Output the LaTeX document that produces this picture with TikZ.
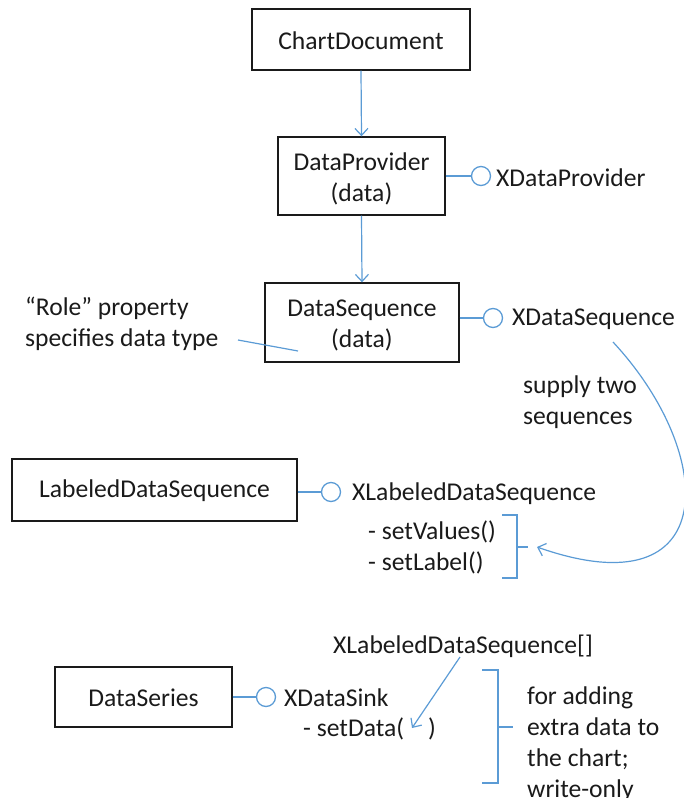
\documentclass[tikz,border=0pt]{standalone}
\usepackage{fontspec}
\setmainfont{Carlito}
\usetikzlibrary{arrows.meta}
\definecolor{linkblue}{HTML}{5B9BD5}
\definecolor{inkdark}{HTML}{1A1A1A}
\tikzset{
  txt/.style={inner sep=0pt, text=inkdark, font=\fontsize{25.6}{31}\selectfont, align=left},
  classbox/.style={draw=inkdark, line width=1.4pt, inner sep=0pt, text=inkdark,
    font=\fontsize{25.6}{31}\selectfont, align=center},
  lolli/.style={draw=linkblue, line width=1.3pt, circle, minimum size=19pt, inner sep=0pt},
  bluelink/.style={draw=linkblue, line width=1.2pt},
  bluearrow/.style={bluelink, -{Straight Barb[length=7pt,width=13pt,line width=1.2pt]}},
}
\begin{document}
\begin{tikzpicture}[x=1pt,y=-1pt]
\useasboundingbox (0,0) rectangle (683,798);

% class boxes
\node[classbox, minimum width=218pt, minimum height=61pt] (doc) at (361,39.5) {};
\node[txt, align=center] (docT) at ([yshift=-1pt]doc.center) {ChartDocument};
\node[classbox, minimum width=167pt, minimum height=78pt] (prov) at (361.5,176) {};
\node[txt, align=center] (provT) at ([yshift=-3pt]prov.center) {DataProvider\\(data)};
\node[classbox, minimum width=194pt, minimum height=79pt] (seq) at (362,322.5) {};
\node[txt, align=center] (seqT) at ([yshift=-3pt]seq.center) {DataSequence\\(data)};
\node[classbox, minimum width=285pt, minimum height=62pt] (lseq) at (154.5,490) {};
\node[txt, align=center] (lseqT) at ([yshift=-1pt]lseq.center) {LabeledDataSequence};
\node[classbox, minimum width=177pt, minimum height=60pt] (ser) at (143.5,697) {};
\node[txt, align=center] (serT) at ([yshift=-1pt]ser.center) {DataSeries};

% containment arrows
\draw[bluearrow] (doc.south) -- (prov.north);
\draw[bluearrow] (prov.south) -- (seq.north);

% interface lollipops
\node[lolli] (iprov) at (481,176) {};
\node[lolli] (iseq) at (493,318) {};
\node[lolli] (ilseq) at (331,492) {};
\node[lolli] (iser) at (266,697) {};
\draw[bluelink] (prov.east |- iprov) -- (iprov.west);
\draw[bluelink] (seq.east |- iseq) -- (iseq.west);
\draw[bluelink] (lseq.east |- ilseq) -- (ilseq.west);
\draw[bluelink] (ser.east |- iser) -- (iser.west);

\node[txt, anchor=west] (nprov) at (496,178) {XDataProvider};
\node[txt, anchor=west] (nseq) at (512,319) {XDataSequence};
\node[txt, anchor=west] (nlseq) at (352,494) {XLabeledDataSequence};
\node[txt, anchor=west] (nser) at (284,698) {XDataSink};

% role note
\node[txt, anchor=west] (role) at (25,324) {“Role” property\\specifies data type};
\coordinate (roleA) at (238,340);
\coordinate (roleB) at (298,351);
\draw[bluelink] (roleA) -- (roleB);

% labeled sequence methods
\node[txt, anchor=west] (meth) at (368,547) {- setValues()\\- setLabel()};
\coordinate (br1top) at (502,515);
\coordinate (br1bot) at (502,578);
\coordinate (br1tip) at (528,547);
\draw[bluelink] (br1top) -- (517,515) -- (517,578) -- (br1bot);
\draw[bluelink] (517,547) -- (br1tip);

% two sequences supplied
\node[txt, anchor=west] (supply) at (523,402) {supply two\\sequences};
\coordinate (cstart) at (613,342);
\coordinate (cend) at (537,547);
\draw[bluearrow] (cstart) .. controls (718,455) and (722,612) .. (cend);

% data sink
\node[txt, anchor=west] (arr) at (333,646) {XLabeledDataSequence[]};
\node[txt, anchor=west] (setd) at (303,729) {- setData(\hspace{24pt})};
\coordinate (aStart) at (460,657);
\coordinate (aEnd) at (412,728);
\draw[bluearrow] (aStart) -- (aEnd);

\coordinate (br2tip) at (513,727);
\draw[bluelink] (482,670) -- (498,670) -- (498,783) -- (482,783);
\draw[bluelink] (498,727) -- (br2tip);
\node[txt, anchor=west] (extra) at (527,744) {for adding\\extra data to\\the chart;\\write-only};
\end{tikzpicture}
\end{document}
